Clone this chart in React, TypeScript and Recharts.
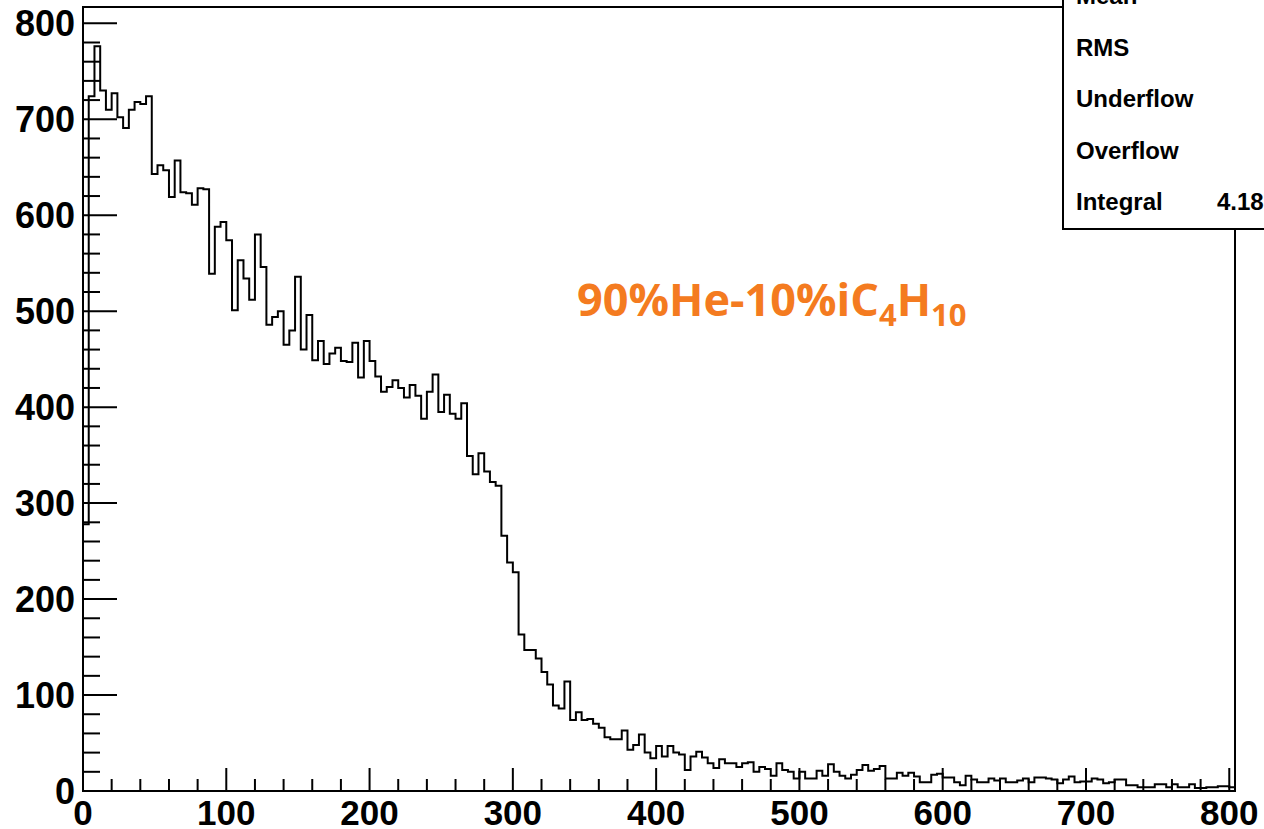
import React from "react";
import { ComposedChart, Line, XAxis, YAxis, ReferenceArea } from "recharts";

// Histogram: 201 bins of width 4 covering 0..804
const BIN_WIDTH = 4;
const X_MAX = 804;
const Y_MAX = 817;

const countsA = [
  278, 724, 776, 730, 710, 727, 702, 691, 710, 718,
  716, 724, 643, 652, 647, 619, 657, 624, 623, 611,
  628, 627, 539, 588, 593, 574, 501, 553, 534, 512,
  580, 546, 486, 494, 500, 465, 480, 536, 460, 496,
  449, 469, 445, 456, 462, 448, 447, 467, 431, 469,
];
const countsB = [
  448, 432, 416, 421, 428, 420, 410, 423, 412, 388,
  416, 434, 395, 413, 393, 388, 404, 349, 330, 352,
  333, 322, 318, 266, 238, 228, 163, 147, 147, 138,
  124, 111, 89, 86, 114, 74, 82, 74, 75, 70,
  66, 56, 54, 54, 63, 43, 48, 59, 40, 34,
];
const countsC = [
  47, 36, 47, 40, 38, 22, 36, 41, 35, 29,
  24, 33, 29, 29, 25, 29, 30, 20, 25, 23,
  16, 29, 22, 20, 13, 20, 13, 13, 21, 16,
  28, 20, 16, 13, 17, 22, 27, 21, 23, 26,
  13, 13, 19, 16, 19, 15, 9, 9, 17, 18,
];
const countsD = [
  14, 14, 9, 6, 16, 12, 9, 9, 13, 11,
  13, 9, 9, 11, 13, 9, 14, 14, 13, 12,
  8, 12, 15, 9, 10, 10, 13, 12, 8, 9,
  12, 12, 6, 6, 4, 4, 4, 7, 7, 4,
  7, 4, 4, 7, 3, 3, 4, 4, 5, 5,
  4,
];

const xMajorLabels = [0, 100, 200, 300, 400, 500, 600, 700, 800];
const yMajorLabels = [0, 100, 200, 300, 400, 500, 600, 700, 800];
const MINOR_PER_MAJOR = 5;

const statLabels = ["Mean", "RMS", "Underflow", "Overflow", "Integral"];
const statValues = ["", "", "", "", "4.18"];

const gasLabel = { main: "90%He-10%iC", sub1: "4", mid: "H", sub2: "10" };

const counts = [...countsA, ...countsB, ...countsC, ...countsD];

// build step outline (ROOT style: from baseline up, then back down at the end)
const histData: { x: number; y: number }[] = [{ x: 0, y: 0 }];
counts.forEach((c, i) => histData.push({ x: i * BIN_WIDTH, y: c }));
histData.push({ x: counts.length * BIN_WIDTH, y: counts[counts.length - 1] });
histData.push({ x: counts.length * BIN_WIDTH, y: 0 });

function withMinor(majors: number[]) {
  const out: number[] = [];
  for (let i = 0; i < majors.length; i++) {
    out.push(majors[i]);
    if (i < majors.length - 1) {
      const step = (majors[i + 1] - majors[i]) / MINOR_PER_MAJOR;
      for (let k = 1; k < MINOR_PER_MAJOR; k++) out.push(majors[i] + k * step);
    }
  }
  return out;
}
const xTicks = withMinor(xMajorLabels);
const yTicks = withMinor(yMajorLabels);

const FONT = "'Liberation Sans', Arial, Helvetica, sans-serif";

const YTick = (props: any) => {
  const { x, y, payload } = props;
  const v = payload.value;
  const major = yMajorLabels.includes(v);
  const axisX = x + 8;
  return (
    <g>
      <line x1={axisX} x2={axisX + (major ? 34 : 17)} y1={y} y2={y} stroke="#000" strokeWidth={2} />
      {major && (
        <text x={x} y={y} dy="0.36em" textAnchor="end" fontFamily={FONT} fontWeight={700} fontSize={36} fill="#000">
          {v}
        </text>
      )}
    </g>
  );
};

const XTick = (props: any) => {
  const { x, y, payload } = props;
  const v = payload.value;
  const major = xMajorLabels.includes(v);
  const axisY = y - 9;
  return (
    <g>
      <line x1={x} x2={x} y1={axisY} y2={axisY - (major ? 23 : 12)} stroke="#000" strokeWidth={2} />
      {major && (
        <text x={x} y={y} dy="0.71em" textAnchor="middle" fontFamily={FONT} fontWeight={700} fontSize={35} fill="#000">
          {v}
        </text>
      )}
    </g>
  );
};

export default function App() {
  return (
    <div style={{ position: "absolute", left: 0, top: 0, width: 1264, height: 829, overflow: "hidden", background: "#fff" }}>
      <ComposedChart
        width={1264}
        height={829}
        data={histData}
        margin={{ top: 7, right: 29, bottom: 0, left: 0 }}
      >
        <XAxis
          dataKey="x"
          type="number"
          domain={[0, X_MAX]}
          ticks={xTicks}
          interval={0}
          tickSize={0}
          tickMargin={9}
          tickLine={false}
          tick={<XTick />}
          height={38}
          axisLine={{ stroke: "#000", strokeWidth: 2 }}
          allowDataOverflow
        />
        <YAxis
          type="number"
          domain={[0, Y_MAX]}
          ticks={yTicks}
          interval={0}
          tickSize={0}
          tickMargin={8}
          tickLine={false}
          tick={<YTick />}
          width={83}
          axisLine={{ stroke: "#000", strokeWidth: 2 }}
          allowDataOverflow
        />
        <ReferenceArea x1={0} x2={X_MAX} y1={0} y2={Y_MAX} fill="none" fillOpacity={0} stroke="#000" strokeWidth={2} ifOverflow="visible" />
        <Line
          dataKey="y"
          type="stepAfter"
          stroke="#000"
          strokeWidth={2}
          dot={false}
          activeDot={false}
          isAnimationActive={false}
        />
      </ComposedChart>
      <svg width={1264} height={829} style={{ position: "absolute", left: 0, top: 0, pointerEvents: "none" }}>
        <rect x={1063} y={-20} width={240} height={249} fill="#fff" stroke="#000" strokeWidth={2} />
        {statLabels.map((s, i) => (
          <text key={s} x={1076} y={4 + i * 51.5} fontFamily={FONT} fontWeight={700} fontSize={24} fill="#000">
            {s}
          </text>
        ))}
        {statValues.map((s, i) =>
          s ? (
            <text key={"v" + i} x={1217} y={4 + i * 51.5} fontFamily={FONT} fontWeight={700} fontSize={24} fill="#000">
              {s}
            </text>
          ) : null
        )}
        <text x={577} y={316} fontFamily="'Open Sans', sans-serif" fontWeight={700} fontSize={45} fill="#f47b20">
          {gasLabel.main}
          <tspan fontSize={31} dy={10}>{gasLabel.sub1}</tspan>
          <tspan fontSize={45} dy={-10}>{gasLabel.mid}</tspan>
          <tspan fontSize={31} dy={10}>{gasLabel.sub2}</tspan>
        </text>
      </svg>
    </div>
  );
}
